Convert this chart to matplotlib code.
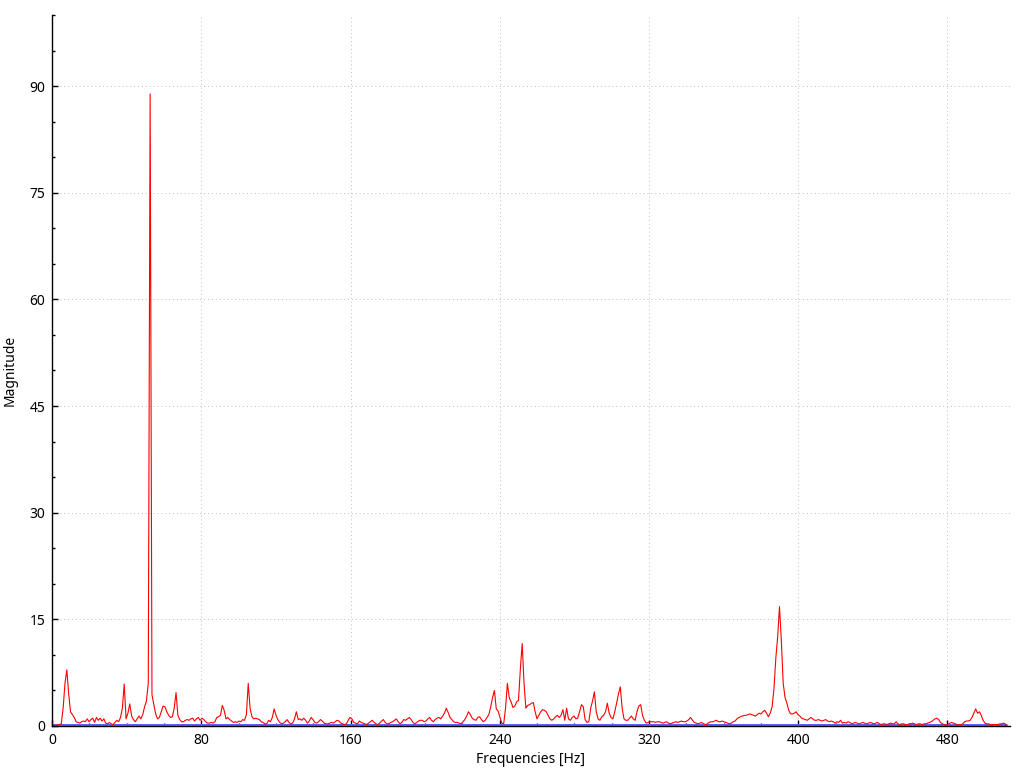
#!/usr/bin/env python
# -*- coding: utf-8 -*-

import matplotlib
matplotlib.use('Agg')

import numpy as np
from matplotlib import pyplot as plt
from matplotlib.ticker import MultipleLocator

# magnitude spectrum, one value per bin, 0 .. 512 Hz
MAGNITUDE = [
    0.1, 0.1, 0.1, 0.1, 0.2, 0.3, 2.5, 6.0, 7.9, 4.5,
    2.0, 1.6, 1.2, 0.6, 0.5, 0.4, 0.6, 0.7, 0.6, 1.0,
    0.6, 0.9, 1.1, 0.5, 1.2, 0.8, 1.1, 0.7, 1.0, 0.4,
    0.3, 0.5, 0.3, 0.2, 0.5, 0.8, 0.6, 1.2, 2.5, 5.9,
    1.0, 1.8, 3.1, 1.4, 0.9, 0.6, 1.0, 1.4, 1.0, 1.6,
    2.7, 3.5, 6.0, 88.9, 4.4, 3.0, 1.7, 1.0, 1.2, 2.0,
    2.8, 2.7, 2.0, 1.5, 1.2, 1.3, 2.5, 4.7, 1.5, 0.9,
    0.6, 0.6, 0.8, 0.9, 0.8, 1.0, 1.1, 0.7, 1.0, 1.2,
    0.8, 1.1, 0.9, 0.6, 0.4, 0.4, 0.5, 0.4, 0.6, 1.2,
    1.3, 1.5, 2.9, 2.2, 1.0, 1.2, 0.9, 0.7, 0.5, 0.6,
    0.5, 0.7, 0.6, 0.9, 0.8, 1.6, 6.0, 2.5, 1.3, 1.0,
    1.1, 1.0, 0.9, 0.6, 0.5, 0.3, 0.3, 0.8, 0.6, 1.2,
    2.4, 1.5, 0.9, 0.5, 0.3, 0.4, 0.6, 0.9, 0.5, 0.3,
    0.4, 1.0, 2.0, 0.9, 1.0, 0.8, 1.1, 0.8, 0.4, 0.7,
    1.2, 0.9, 0.5, 0.4, 0.6, 0.9, 0.7, 0.4, 0.3, 0.3,
    0.4, 0.5, 0.4, 0.6, 0.8, 0.7, 0.4, 0.3, 0.2, 0.3,
    0.8, 1.2, 1.0, 0.5, 0.4, 0.3, 0.7, 0.5, 0.4, 0.3,
    0.2, 0.4, 0.6, 0.8, 0.5, 0.3, 0.2, 0.4, 0.7, 0.9,
    0.5, 0.3, 0.3, 0.5, 0.6, 0.8, 1.0, 0.6, 0.3, 0.5,
    0.9, 0.8, 1.0, 1.2, 0.9, 0.5, 0.3, 0.5, 0.7, 0.8,
    0.8, 0.6, 0.7, 1.0, 1.2, 0.8, 0.6, 0.9, 1.1, 1.2,
    1.0, 1.4, 1.8, 2.5, 1.9, 1.2, 0.9, 0.6, 0.5, 0.5,
    0.4, 0.3, 0.6, 0.9, 1.4, 2.0, 1.6, 1.1, 0.9, 0.8,
    1.2, 1.3, 0.9, 0.6, 0.8, 1.2, 1.6, 2.7, 4.0, 5.0,
    2.4, 2.1, 1.2, 0.4, 0.3, 2.5, 6.0, 4.0, 3.4, 2.6,
    2.8, 3.4, 3.6, 8.0, 11.6, 6.0, 2.5, 2.9, 3.0, 3.2,
    3.3, 2.0, 1.0, 1.5, 2.0, 2.3, 2.2, 2.0, 1.5, 1.0,
    0.8, 1.0, 1.3, 1.5, 1.2, 1.5, 2.3, 0.8, 2.5, 1.0,
    0.8, 1.2, 1.4, 1.0, 1.1, 2.0, 3.0, 2.7, 0.9, 0.5,
    0.6, 2.5, 3.5, 4.8, 2.0, 1.0, 0.8, 1.3, 1.5, 2.0,
    3.2, 1.8, 1.2, 1.0, 2.0, 3.2, 4.5, 5.5, 2.5, 1.0,
    0.8, 0.8, 1.1, 1.4, 1.0, 0.8, 2.0, 2.8, 3.0, 1.5,
    0.8, 0.4, 0.5, 0.6, 0.6, 0.6, 0.5, 0.6, 0.6, 0.5,
    0.4, 0.5, 0.6, 0.4, 0.3, 0.4, 0.5, 0.6, 0.5, 0.6,
    0.7, 0.6, 0.6, 0.7, 0.9, 1.2, 0.8, 0.5, 0.4, 0.3,
    0.4, 0.5, 0.3, 0.2, 0.3, 0.5, 0.6, 0.6, 0.7, 0.8,
    0.6, 0.6, 0.7, 0.6, 0.5, 0.4, 0.3, 0.4, 0.6, 0.7,
    1.0, 1.2, 1.3, 1.4, 1.5, 1.5, 1.6, 1.7, 1.6, 1.5,
    1.4, 1.6, 1.8, 1.7, 2.0, 2.2, 1.8, 1.3, 1.8, 2.7,
    5.2, 9.5, 12.5, 16.8, 12.0, 6.0, 4.0, 3.2, 2.2, 1.7,
    1.7, 1.8, 2.0, 1.6, 1.4, 1.1, 1.0, 0.9, 0.8, 1.0,
    1.2, 1.0, 0.8, 0.8, 0.9, 0.8, 0.7, 0.8, 0.9, 0.7,
    0.6, 0.7, 0.6, 0.4, 0.6, 0.5, 0.8, 0.4, 0.5, 0.4,
    0.6, 0.5, 0.3, 0.4, 0.5, 0.4, 0.3, 0.4, 0.5, 0.4,
    0.3, 0.4, 0.5, 0.4, 0.3, 0.4, 0.5, 0.3, 0.2, 0.3,
    0.3, 0.2, 0.3, 0.4, 0.3, 0.3, 0.6, 0.3, 0.2, 0.3,
    0.3, 0.2, 0.2, 0.3, 0.3, 0.4, 0.3, 0.2, 0.3, 0.3,
    0.2, 0.3, 0.3, 0.4, 0.5, 0.6, 0.8, 1.0, 1.1, 0.9,
    0.5, 0.3, 0.2, 0.1, 0.2, 0.4, 0.5, 0.4, 0.3, 0.2,
    0.1, 0.2, 0.3, 0.6, 0.7, 0.7, 0.8, 1.2, 1.8, 2.4,
    1.8, 2.0, 1.5, 0.8, 0.4, 0.3, 0.3, 0.2, 0.2, 0.2,
    0.2, 0.2, 0.3, 0.3, 0.4, 0.3, 0.0,
]
F_MAX = 512
X_TICKS = [0, 80, 160, 240, 320, 400, 480]
Y_TICKS = [0, 15, 30, 45, 60, 75, 90]


def plot_spectrum():

    plt.rcParams['font.family'] = ['Noto Sans', 'DejaVu Sans']
    fig = plt.figure(figsize=(10.24, 7.68), dpi=100)
    ax = fig.add_axes([0.0508, 0.0547, 0.9355, 0.9258])

    freqs = np.linspace(0, F_MAX, len(MAGNITUDE))
    # flat blue trace sitting on the x axis
    ax.plot(freqs, np.zeros(len(freqs)), color='#6060ff', linewidth=3.6,
            solid_capstyle='butt', zorder=2)
    ax.plot(freqs, MAGNITUDE, color='#ff0000', linewidth=0.8, zorder=3)

    ax.set_xlim(0, 513.5)
    ax.set_ylim(0, 100)
    ax.set_xticks(X_TICKS)
    ax.set_yticks(Y_TICKS)
    ax.xaxis.set_minor_locator(MultipleLocator(20))
    ax.yaxis.set_minor_locator(MultipleLocator(5))
    ax.grid(True, which='major', ls=(0, (1, 3)), lw=0.7, color='#bdbdbd')

    ax.tick_params(axis='both', which='major', direction='in', length=4,
                   width=1, color='black', labelsize=10, pad=5)
    ax.tick_params(axis='both', which='minor', direction='in', length=2,
                   width=1, color='black')

    ax.spines['top'].set_visible(False)
    ax.spines['right'].set_visible(False)
    ax.spines['left'].set_linewidth(1)
    ax.spines['bottom'].set_linewidth(1)
    ax.spines['left'].set_zorder(4)
    ax.spines['bottom'].set_zorder(4)

    ax.set_xlabel('Frequencies [Hz]', fontsize=10, labelpad=3)
    ax.set_ylabel('Magnitude', fontsize=10, labelpad=8)

    plt.savefig('out.png', dpi=100)
    return 0


def main():
    plot_spectrum()


if __name__ == "__main__":
    main()
